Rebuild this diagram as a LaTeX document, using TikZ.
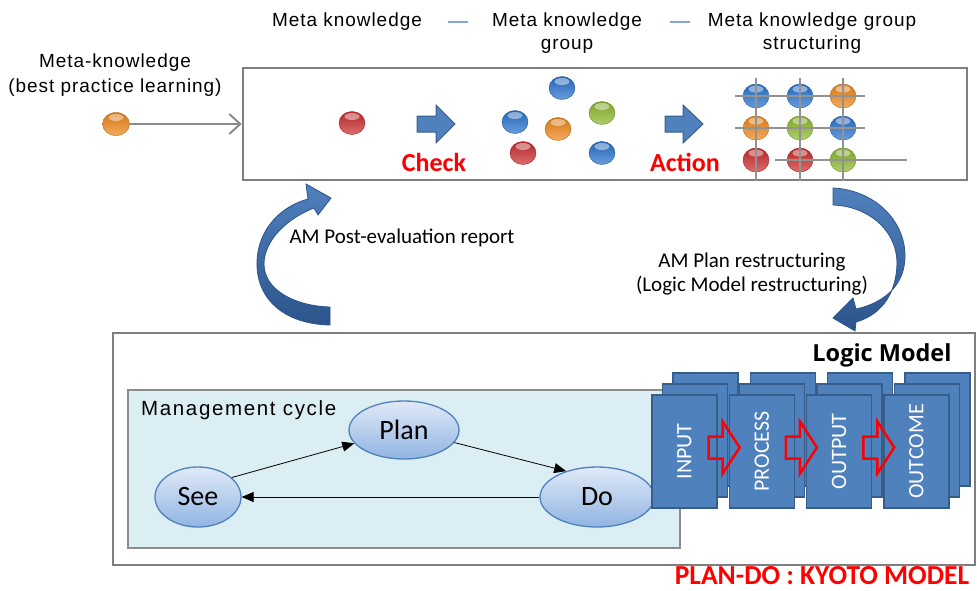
\documentclass[tikz,border=0pt]{standalone}
\usepackage{fontspec}
\setmainfont{Carlito}
\newfontfamily\gothic{Liberation Sans}[LetterSpace=5]
\newfontfamily\gothicwide{Liberation Sans}[LetterSpace=8]
\newfontfamily\opensans{Open Sans}
\usetikzlibrary{arrows.meta,shapes.geometric}

\definecolor{boxgray}{RGB}{127,127,127}
\definecolor{lmblue}{RGB}{79,129,189}
\definecolor{lmedge}{RGB}{56,93,138}
\definecolor{cyclefill}{RGB}{218,238,243}
\definecolor{ovaltop}{RGB}{224,234,248}
\definecolor{ovalbot}{RGB}{145,180,226}
\definecolor{curvtop}{RGB}{79,129,189}
\definecolor{curvbot}{RGB}{44,84,140}
\definecolor{dashblue}{RGB}{130,170,215}
\definecolor{ballred}{RGB}{205,45,45}
\definecolor{ballblue}{RGB}{40,115,205}
\definecolor{ballorange}{RGB}{240,135,25}
\definecolor{ballgreen}{RGB}{140,185,45}
\definecolor{kyotored}{RGB}{255,0,0}

\tikzset{
	pics/blockarrow/.style args={#1,#2,#3,#4}{code={
		\path[pic actions] (0,#2) -- (#1,#2) -- (#1,#4) -- ({#1+#3},0) -- (#1,-#4) -- (#1,-#2) -- (0,-#2) -- cycle;}},
	ball/.style={ellipse, minimum width=26pt, minimum height=23pt, inner sep=0pt, draw=#1!75!black, line width=0.4pt,
		top color=#1!88!black, bottom color=#1!70!white,
		path picture={\fill[white, opacity=0.45] ([yshift=-5pt]path picture bounding box.north) ellipse (7.5pt and 3.5pt);}},
	oval/.style={ellipse, draw=lmblue, line width=1.3pt, top color=ovaltop, bottom color=ovalbot, inner sep=0pt, font=\fontsize{28}{30}\selectfont},
	cyc/.style={-{Triangle[length=12pt,width=10pt]}, line width=0.8pt},
	lmcard/.style={draw=lmedge, fill=lmblue, line width=1.3pt, minimum width=65pt, minimum height=113pt, inner sep=0pt},
	toptext/.style={font=\gothic\fontsize{19}{23}\selectfont, align=center, inner sep=0pt},
	redword/.style={text=kyotored, font=\bfseries\fontsize{26}{28}\selectfont, inner sep=0pt},
	gridline/.style={draw=boxgray!85, line width=1.2pt},
}

\begin{document}
\begin{tikzpicture}[x = 1pt, y = -1pt]%KYOTO
	\useasboundingbox (0,0) rectangle (977,590);
	\node[toptext] (mk1) at (347,22) {Meta knowledge};
	\node[toptext] (mk2) at (567,33.5) {Meta knowledge\\group};
	\node[toptext] (mk3) at (812,33.5) {Meta knowledge group\\structuring};
	\draw[dashblue, line width=1.2pt]
	(mk1.east) ++(26,0) -- ++(20,0)
	(mk3.west |- mk1) ++(-38,0) -- ++(20,0);
	\node[toptext, font=\gothic\fontsize{19}{25.5}\selectfont] (meta) at (115,75) {Meta-knowledge\\(best practice learning)};

	\node[draw=boxgray, line width=2.5pt, minimum width=724pt, minimum height=112pt] (topbox) at (605,124) {};
	\node[ball=ballorange, minimum width=27pt] (seed) at (116,124) {};
	\draw[boxgray!90, line width=2pt, -{Straight Barb[length=11pt,width=20pt]}] (seed) -- (seed -| topbox.west);

	\node[ball=ballred] (single) at (352,123) {};
	\pic[fill=lmblue, draw=lmedge, line width=1pt] at (417,124) {blockarrow={19,8,19,19}};
	\node[redword] (check) at (434,162) {Check};
	\foreach \c/\x/\y [count=\n] in {ballblue/562/88, ballblue/515/122, ballorange/558/129, ballgreen/602/113, ballred/523/153, ballblue/602/153}
	\node[ball=\c] (grp\n) at (\x,\y) {};
	\pic[fill=lmblue, draw=lmedge, line width=1pt] at (665,124) {blockarrow={18,8,20,19}};
	\node[redword] (action) at (685,162) {Action};

	\foreach \cA/\cB/\cC [count=\r] in {ballblue/ballblue/ballorange, ballorange/ballgreen/ballblue, ballred/ballred/ballgreen}{
		\node[ball=\cA, minimum height=24pt] (s\r a) at (756,64+32*\r) {};
		\node[ball=\cB, minimum height=24pt] (s\r b) at (800,64+32*\r) {};
		\node[ball=\cC, minimum height=24pt] (s\r c) at (843,64+32*\r) {};
	}
	\draw[gridline]
	([xshift=-21pt]s1a.center) -- ([xshift=22pt]s1c.center)
	([xshift=-21pt]s2a.center) -- ([xshift=22pt]s2c.center)
	([xshift=-25pt]s3b.center) -- ([xshift=64pt]s3c.center)
	([yshift=18pt]s1a.center) -- (s1a |- topbox.south)
	([yshift=18pt]s1b.center) -- (s1b |- topbox.south)
	([yshift=18pt]s1c.center) -- (s1c |- topbox.south);

	\shadedraw[top color=curvtop, bottom color=curvbot, draw=curvbot, line width=0.8pt]
	(330,325) .. controls (283,324) and (256,298) .. (257,262) .. controls (258,228) and (282,206) .. (308,199) -- (306,184) -- (331,198) -- (318,215) -- (314,208) .. controls (288,218) and (264,240) .. (264,264) .. controls (264,290) and (295,306) .. (330,307) -- cycle;
	\shadedraw[top color=curvtop, bottom color=curvbot, draw=curvbot, line width=0.8pt]
	(833,188) .. controls (874,190) and (905,220) .. (905,256) .. controls (905,282) and (888,302) .. (856,309) -- (853,298) -- (833,318) -- (855,331) -- (856,322) .. controls (884,314) and (897,290) .. (897,262) .. controls (896,228) and (866,206) .. (833,205) -- cycle;
	\node[font=\fontsize{21}{24}\selectfont] (postlabel) at (402,238) {AM Post-evaluation report};
	\node[font=\fontsize{21}{24}\selectfont, align=center] (planlabel) at (752,274) {AM Plan restructuring\\(Logic Model restructuring)};

	\node[draw=boxgray, line width=2.5pt, minimum width=862pt, minimum height=232pt] (lowbox) at (544,449) {};
	\node[font=\opensans\bfseries\fontsize{23.5}{26}\selectfont] (lmtitle) at (882,355) {Logic Model};
	\node[draw=boxgray!90, fill=cyclefill, line width=2pt, minimum width=552pt, minimum height=158pt] (cyclebox) at (404,469) {};
	\node[font=\gothicwide\fontsize{20.5}{22}\selectfont, anchor=west, inner sep=0pt] (cyclelabel) at (141,410) {Management cycle};
	\node[oval, minimum width=110pt, minimum height=58pt] (plan) at (404,430) {Plan};
	\node[oval, minimum width=86pt, minimum height=60pt] (see) at (198,497) {See};
	\node[oval, minimum width=114pt, minimum height=60pt] (do) at (597,497) {Do};
	\draw[cyc] (see.30) -- (plan.195);
	\draw[cyc] (plan.-14) -- (do.140);
	\draw[cyc] (do) -- (see);

	\foreach \t [count=\i from 0] in {INPUT,PROCESS,OUTPUT,OUTCOME}{
		\node[lmcard] at (705.5+77.3*\i,429.5) {};
		\node[lmcard] at (695+77.3*\i,440.5) {};
		\node[lmcard, text=white, font=\fontsize{22}{24}\selectfont] (card\i) at (684.5+77.3*\i,451.5) {\rotatebox{90}{\t}};
	}
	\foreach \i in {0,1,2}
	\pic[draw=kyotored, line width=2.5pt] at ([shift={(-9pt,4pt)}]card\i.east) {blockarrow={14,11,17,26}};

	\node[text=kyotored, font=\bfseries\fontsize{27.5}{30}\selectfont, anchor=base, inner sep=0pt] (kyoto) at (822,584) {PLAN-DO : KYOTO MODEL};
\end{tikzpicture}
\end{document}
